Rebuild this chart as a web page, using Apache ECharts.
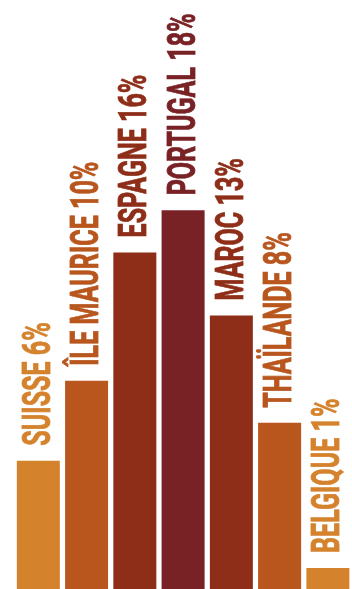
<!DOCTYPE html>
<html><head><meta charset="utf-8">
<script src="https://cdn.jsdelivr.net/npm/echarts@6/dist/echarts.min.js"></script>
<style>html,body{margin:0;padding:0;background:#fff}#c{width:352px;height:589px}</style>
</head><body><div id="c"></div>
<script>
const categories = ['SUISSE','ÎLE MAURICE','ESPAGNE','PORTUGAL','MAROC','THAÏLANDE','BELGIQUE'];
const values = [6.1, 9.9, 16, 18, 13, 7.9, 1];
const percentLabels = ['6%','10%','16%','18%','13%','8%','1%'];
const colors = ['#D5822D','#B8561E','#8E2E19','#782226','#8E2E19','#B8561E','#D5822D'];

const chart = echarts.init(document.getElementById('c'), null, {renderer:'canvas'});
chart.setOption({
  animation: false,
  backgroundColor: '#ffffff',
  grid: {left: 14.2, top: 0, right: -3.2, bottom: 0},
  xAxis: {type: 'category', data: categories, show: false, boundaryGap: true},
  yAxis: {type: 'value', min: 0, max: 28, show: false},
  series: [
    {
      type: 'bar',
      barWidth: 43,
      data: values.map((v, i) => ({value: v, itemStyle: {color: colors[i]}}))
    },
    {
      type: 'custom',
      clip: false,
      data: values.map((v, i) => [i, v]),
      renderItem: function (params, api) {
        const i = api.value(0);
        const p = api.coord([i, api.value(1)]);
        return {
          type: 'text',
          x: p[0] + 2,
          y: p[1] - 15,
          rotation: Math.PI / 2,
          scaleX: 0.66,
          style: {
            text: categories[i] + ' ' + percentLabels[i],
            fill: colors[i],
            stroke: colors[i],
            lineWidth: 0.8,
            font: 'bold 38px Roboto',
            align: 'left',
            verticalAlign: 'middle'
          }
        };
      }
    }
  ]
});
</script></body></html>
